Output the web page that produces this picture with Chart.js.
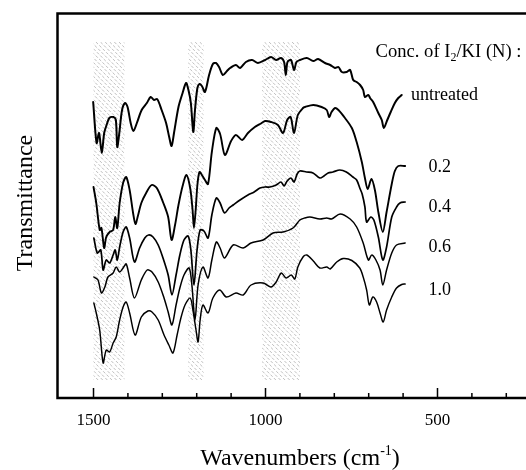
<!DOCTYPE html>
<html>
<head>
<meta charset="utf-8">
<script src="https://cdn.jsdelivr.net/npm/chart.js@4.4.1/dist/chart.umd.min.js"></script>
<style>
  html, body { margin: 0; padding: 0; background: #fff; }
</style>
</head>
<body>
<canvas id="myChart" width="526" height="470"></canvas>
<script>
// IR spectra, offset transmittance (a.u.) vs wavenumber (cm-1)
const untreatedWn = [1501,1491,1484,1476,1469,1462,1454,1442,1435,1431,1425,1417,1408,1401,1392,1384,1374,1360,1345,1334,1324,1315,1302,1289,1280,1273,1266,1253,1241,1231,1224,1217,1210,1205,1198,1192,1185,1176,1164,1153,1144,1135,1124,1112,1103,1086,1074,1057,1039,1022,1001,984,969,955,946,941,936,926,917,910,900,880,861,847,827,812,798,788,778,764,754,745,735,725,716,711,701,696,687,672,662,656,646,636,624,614,604];
const untreatedT = [296,255,265,245,265,273,280,281,278,251,265,288,295,291,275,267,275,288,295,301,298,299,288,275,261,252,265,291,305,315,308,295,266,288,310,314,312,306,323,334,335,331,323,327,330,333,330,336,338,335,338,341,338,340,336,323,336,338,328,336,338,340,337,339,335,333,330,331,326,326,328,318,316,313,308,301,303,300,296,285,278,270,278,286,295,300,303];

const conc02Wn = [1500,1492,1482,1477,1469,1463,1453,1443,1437,1431,1424,1414,1405,1395,1385,1378,1371,1361,1347,1331,1316,1297,1283,1273,1263,1253,1241,1230,1219,1212,1208,1203,1198,1192,1185,1176,1167,1156,1143,1132,1118,1100,1086,1068,1051,1031,1016,1001,984,964,949,937,927,917,906,891,885,861,837,822,815,808,798,788,769,749,735,720,711,703,692,682,672,659,648,633,624,614,594];
const conc02T = [211,195,168,170,150,161,166,168,181,170,195,215,221,208,185,174,182,195,205,213,210,195,181,158,173,193,212,223,210,188,170,188,213,226,223,218,214,246,270,264,243,257,263,258,265,271,274,277,276,273,265,278,281,265,283,290,291,293,291,288,281,286,290,288,280,270,256,236,220,209,219,208,186,166,186,214,227,232,232];

const conc04Wn = [1499,1489,1479,1472,1463,1453,1443,1437,1431,1424,1414,1405,1395,1381,1366,1351,1340,1327,1312,1298,1283,1272,1260,1249,1237,1225,1217,1208,1199,1190,1179,1167,1156,1143,1132,1119,1106,1094,1074,1051,1033,1016,1001,987,969,955,946,937,926,917,908,900,881,862,842,830,818,804,784,765,746,735,726,719,711,706,694,685,672,659,648,633,619,609,594];
const conc04T = [160,145,148,128,138,135,143,148,138,151,166,171,160,136,150,160,163,161,153,140,123,103,123,143,158,162,148,113,148,168,167,160,183,200,195,185,190,193,198,203,206,210,211,211,213,216,212,217,220,216,224,227,226,225,220,222,225,226,228,226,221,218,210,204,191,176,181,178,161,138,151,181,191,195,196];

const conc06Wn = [1499,1487,1477,1467,1458,1443,1434,1424,1414,1405,1395,1381,1361,1344,1330,1312,1295,1283,1272,1260,1249,1237,1222,1214,1205,1196,1182,1167,1156,1143,1132,1119,1094,1065,1042,1007,978,949,920,900,886,871,842,822,808,783,754,735,716,701,691,679,667,659,648,633,619,594];
const conc06T = [121,118,105,111,121,125,131,126,130,134,120,100,118,128,126,116,100,86,73,93,110,123,130,113,78,113,131,120,138,156,150,140,153,150,155,158,165,166,170,178,180,181,179,180,179,184,179,171,155,138,143,138,128,113,128,145,153,155];

const conc10Wn = [1499,1492,1482,1472,1463,1453,1443,1434,1424,1414,1405,1395,1379,1361,1342,1330,1312,1295,1281,1269,1257,1246,1234,1219,1211,1202,1196,1190,1182,1167,1153,1133,1114,1086,1065,1042,1007,984,969,954,940,925,915,906,891,880,861,842,822,812,793,774,749,726,716,706,698,688,677,667,658,648,633,619,604,594];
const conc10T = [95,85,68,35,48,46,55,61,78,91,96,85,63,81,87,86,78,63,53,45,63,80,93,100,88,68,56,78,93,85,100,108,101,105,103,113,115,111,116,125,120,123,119,131,141,143,137,130,131,129,136,139.5,137.5,130,121,108,93,101,96,85,76,88,101,110,113.5,114];

const seriesNames = ['untreated', '0.2', '0.4', '0.6', '1.0'];
const labelWn = [577, 526, 526, 526, 526];
const labelT = [298, 226, 186, 146, 103];

// shaded absorption regions, cm-1
const bandFrom = [1500, 1225, 1010];
const bandTo = [1410, 1180, 900];
const bandTop = 356;
const bandBottom = 18;

const majorTicks = [1500, 1000, 500];
const minorTicks = [1400, 1300, 1200, 1100, 900, 800, 700, 600, 400, 300];

const toPoints = (wn, t) => wn.map((w, i) => ({ x: w, y: t[i] }));

const serif = '"Liberation Serif", "Times New Roman", serif';

const hatchBands = {
  id: 'hatchBands',
  beforeDatasetsDraw(chart) {
    const { ctx, scales: { x, y } } = chart;
    ctx.save();
    ctx.strokeStyle = 'rgba(70,70,70,0.5)';
    ctx.lineWidth = 0.7;
    ctx.setLineDash([3, 1.8]);
    bandFrom.forEach((from, i) => {
      const x0 = x.getPixelForValue(from);
      const x1 = x.getPixelForValue(bandTo[i]);
      const top = y.getPixelForValue(bandTop);
      const bottom = y.getPixelForValue(bandBottom);
      const h = bottom - top;
      ctx.save();
      ctx.beginPath();
      ctx.rect(x0, top, x1 - x0, h);
      ctx.clip();
      ctx.beginPath();
      for (let k = x0 - h; k < x1; k += 4.6) {
        ctx.moveTo(k, top);
        ctx.lineTo(k + h, bottom);
      }
      ctx.stroke();
      ctx.restore();
    });
    ctx.restore();
  }
};

const frameAndText = {
  id: 'frameAndText',
  afterDraw(chart) {
    const { ctx, chartArea: a, scales: { x, y } } = chart;
    ctx.save();
    ctx.strokeStyle = '#000';
    ctx.fillStyle = '#000';

    // frame: top, left, bottom
    ctx.lineWidth = 2.5;
    ctx.beginPath();
    ctx.moveTo(a.right + 2, a.top);
    ctx.lineTo(a.left, a.top);
    ctx.lineTo(a.left, a.bottom);
    ctx.lineTo(a.right + 2, a.bottom);
    ctx.stroke();

    // inward ticks
    ctx.lineWidth = 1.5;
    ctx.beginPath();
    majorTicks.forEach(v => {
      const px = x.getPixelForValue(v);
      ctx.moveTo(px, a.bottom);
      ctx.lineTo(px, a.bottom - 10);
    });
    minorTicks.forEach(v => {
      const px = x.getPixelForValue(v);
      ctx.moveTo(px, a.bottom);
      ctx.lineTo(px, a.bottom - 5);
    });
    ctx.stroke();

    ctx.textBaseline = 'alphabetic';
    ctx.font = '17px ' + serif;
    ctx.textAlign = 'center';
    majorTicks.forEach(v => ctx.fillText(String(v), x.getPixelForValue(v), a.bottom + 27));

    // x title with superscript
    const big = '24px ' + serif, small = '14px ' + serif;
    const base = a.bottom + 67;
    ctx.textAlign = 'left';
    ctx.font = big;
    const w1 = ctx.measureText('Wavenumbers (cm').width;
    const w3 = ctx.measureText(')').width;
    ctx.font = small;
    const w2 = ctx.measureText('-1').width;
    let cx = 300 - (w1 + w2 + w3) / 2;
    ctx.font = big;
    ctx.fillText('Wavenumbers (cm', cx, base);
    cx += w1;
    ctx.font = small;
    ctx.fillText('-1', cx, base - 10);
    cx += w2;
    ctx.font = big;
    ctx.fillText(')', cx, base);

    // y title
    ctx.save();
    ctx.translate(31.5, 203);
    ctx.rotate(-Math.PI / 2);
    ctx.textAlign = 'center';
    ctx.font = '24px ' + serif;
    ctx.fillText('Transmittance', 0, 0);
    ctx.restore();

    // legend heading with subscript
    let lx = x.getPixelForValue(680);
    const ly = y.getPixelForValue(341);
    ctx.textAlign = 'left';
    ctx.font = '18.6px ' + serif;
    ctx.fillText('Conc. of I', lx, ly);
    lx += ctx.measureText('Conc. of I').width;
    ctx.font = '12px ' + serif;
    ctx.fillText('2', lx, ly + 4);
    lx += ctx.measureText('2').width;
    ctx.font = '18.6px ' + serif;
    ctx.fillText('/KI (N) :', lx, ly);

    // curve labels
    ctx.font = '18px ' + serif;
    seriesNames.forEach((name, i) => {
      ctx.fillText(name, x.getPixelForValue(labelWn[i]), y.getPixelForValue(labelT[i]));
    });
    ctx.restore();
  }
};

const lineWidths = [2, 1.9, 1.7, 1.5, 1.45];

const data = {
  datasets: [
    toPoints(untreatedWn, untreatedT),
    toPoints(conc02Wn, conc02T),
    toPoints(conc04Wn, conc04T),
    toPoints(conc06Wn, conc06T),
    toPoints(conc10Wn, conc10T)
  ].map((pts, i) => ({
    label: seriesNames[i],
    data: pts,
    borderColor: '#000',
    borderWidth: lineWidths[i],
    pointRadius: 0,
    tension: 0.3,
    fill: false
  }))
};

const config = {
  type: 'line',
  data,
  options: {
    responsive: false,
    animation: false,
    devicePixelRatio: 1,
    layout: { padding: { left: 57.5, right: 0, top: 13.5, bottom: 72 } },
    plugins: {
      legend: { display: false },
      tooltip: { enabled: false }
    },
    scales: {
      x: { type: 'linear', reverse: true, min: 242.7, max: 1604.7, display: false },
      y: { type: 'linear', min: 0, max: 384.5, display: false }
    },
    elements: { line: { borderCapStyle: 'round', borderJoinStyle: 'round' } }
  },
  plugins: [hatchBands, frameAndText]
};

new Chart(document.getElementById('myChart'), config);
</script>
</body>
</html>
